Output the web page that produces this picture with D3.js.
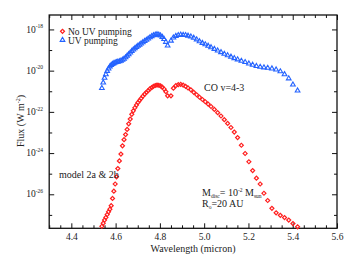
<!DOCTYPE html>
<html>
<head>
<meta charset="utf-8">
<script src="https://cdn.jsdelivr.net/npm/d3@7"></script>
<style>
  body { margin: 0; background: #fff; }
  text { font-family: "Liberation Serif", "Times New Roman", serif; fill: #222; }
</style>
</head>
<body>
<svg id="chart" width="352" height="259"></svg>
<script>
// wavelengths (micron) of the plotted points
const wavelength = [
  4.538, 4.544, 4.550, 4.556, 4.562, 4.568, 4.574, 4.580, 4.586, 4.592, 4.598, 4.604,
  4.610, 4.617, 4.624, 4.631, 4.638, 4.645, 4.652, 4.659, 4.666, 4.673, 4.680, 4.687,
  4.694, 4.701, 4.708, 4.715, 4.723, 4.731, 4.739, 4.747, 4.755, 4.763, 4.771, 4.779,
  4.787, 4.795, 4.803, 4.811, 4.819, 4.827, 4.835,
  4.850, 4.861, 4.872, 4.883, 4.894, 4.905, 4.916, 4.927, 4.940, 4.953, 4.966, 4.979,
  4.992, 5.005, 5.018, 5.031, 5.046, 5.061, 5.076, 5.091, 5.106, 5.121, 5.136, 5.151,
  5.168, 5.185, 5.202, 5.219, 5.236, 5.253, 5.270, 5.287, 5.306, 5.325, 5.344, 5.363,
  5.382, 5.401, 5.422
];
// log10 of flux (W m^-2), no UV pumping
const logFluxNoUV = [
  -27.55, -27.40, -27.25, -27.12, -26.98, -26.85, -26.72, -26.55, -26.20, -25.85, -25.50, -25.15,
  -24.75, -24.38, -24.05, -23.65, -23.35, -23.10, -22.85, -22.58, -22.35, -22.12, -21.95, -21.80,
  -21.67, -21.55, -21.45, -21.35, -21.24, -21.14, -21.05, -20.97, -20.88, -20.82, -20.76, -20.72,
  -20.70, -20.71, -20.74, -20.80, -20.89, -21.02, -21.22,
  -21.22, -20.85, -20.73, -20.68, -20.67, -20.70, -20.76, -20.84, -20.93, -21.05, -21.17, -21.29,
  -21.40, -21.51, -21.62, -21.74, -21.88, -22.04, -22.20, -22.38, -22.56, -22.76, -22.98, -23.25,
  -23.62, -24.02, -24.42, -24.85, -25.22, -25.50, -25.95, -26.30, -26.68, -26.90, -27.02, -27.13,
  -27.25, -27.42, -27.58
];
// log10 of flux (W m^-2), UV pumping
const logFluxUV = [
  -20.85, -20.58, -20.35, -20.18, -20.02, -19.90, -19.80, -19.73, -19.68, -19.64, -19.61, -19.59,
  -19.57, -19.55, -19.52, -19.48, -19.43, -19.36, -19.28, -19.21, -19.13, -19.05, -18.98, -18.92,
  -18.86, -18.80, -18.75, -18.69, -18.63, -18.57, -18.51, -18.45, -18.39, -18.33, -18.29, -18.26,
  -18.24, -18.26, -18.30, -18.37, -18.47, -18.61, -18.79,
  -18.55, -18.40, -18.32, -18.28, -18.26, -18.27, -18.28, -18.31, -18.35, -18.41, -18.49, -18.58,
  -18.66, -18.73, -18.80, -18.87, -18.95, -19.03, -19.11, -19.19, -19.26, -19.33, -19.40, -19.46,
  -19.53, -19.59, -19.66, -19.72, -19.78, -19.82, -19.85, -19.87, -19.90, -19.95, -20.04, -20.18,
  -20.38, -20.68, -20.97
];
const seriesNames = ["No UV pumping", "UV pumping"];
const xTickValues = [4.4, 4.6, 4.8, 5.0, 5.2, 5.4, 5.6];
const xTickLabels = ["4.4", "4.6", "4.8", "5.0", "5.2", "5.4", "5.6"];
const yTickExponents = [-26, -24, -22, -20, -18];

const red = "#ff1f1f", blue = "#2463ff";
const svg = d3.select("#chart");
const pLeft = 49.2, pRight = 337, pTop = 15, pBottom = 228.3;

const x = d3.scaleLinear().domain([4.3, 5.6]).range([pLeft, pRight]);
const y = d3.scaleLog().domain([Math.pow(10, -27.65), Math.pow(10, -17.3)]).range([pBottom, pTop]);

const minorX = d3.range(4.3, 5.601, 0.05).filter(v => !xTickValues.some(t => Math.abs(t - v) < 1e-6));
const minorY = d3.range(-27, -17, 1).filter(e => !yTickExponents.includes(e)).map(e => Math.pow(10, e));
const majorY = yTickExponents.map(e => Math.pow(10, e));

function tickStyle(g) {
  g.select(".domain").remove();
  g.selectAll("line").attr("stroke", "#111").attr("stroke-width", 1);
}

// bottom axis with labels
svg.append("g")
  .attr("transform", `translate(0,${pBottom})`)
  .call(d3.axisBottom(x).tickValues(xTickValues).tickSize(-5).tickPadding(5)
    .tickFormat((d, i) => xTickLabels[i]))
  .call(tickStyle)
  .call(g => g.selectAll("text").attr("font-size", 9.5).attr("fill", "#333")
    .style("font-family", "Liberation Serif"));
svg.append("g").attr("transform", `translate(0,${pBottom})`)
  .call(d3.axisBottom(x).tickValues(minorX).tickSize(-3).tickFormat(""))
  .call(tickStyle);
// top axis (ticks only)
svg.append("g").attr("transform", `translate(0,${pTop})`)
  .call(d3.axisTop(x).tickValues(xTickValues).tickSize(-5).tickFormat(""))
  .call(tickStyle);
svg.append("g").attr("transform", `translate(0,${pTop})`)
  .call(d3.axisTop(x).tickValues(minorX).tickSize(-3).tickFormat(""))
  .call(tickStyle);
// left / right axes
[["axisLeft", pLeft], ["axisRight", pRight]].forEach(([fn, pos]) => {
  svg.append("g").attr("transform", `translate(${pos},0)`)
    .call(d3[fn](y).tickValues(majorY).tickSize(-5).tickFormat(""))
    .call(tickStyle);
  svg.append("g").attr("transform", `translate(${pos},0)`)
    .call(d3[fn](y).tickValues(minorY).tickSize(-3).tickFormat(""))
    .call(tickStyle);
});

// y tick labels 10^n
yTickExponents.forEach(e => {
  const t = svg.append("text")
    .attr("x", 43).attr("y", y(Math.pow(10, e)) + 3.2)
    .attr("text-anchor", "end").attr("font-size", 9.5).attr("fill", "#333");
  t.append("tspan").text("10");
  t.append("tspan").attr("font-size", 5.5).attr("dy", -4.5).text(String(e));
});

// frame
svg.append("rect")
  .attr("x", pLeft).attr("y", pTop).attr("width", pRight - pLeft).attr("height", pBottom - pTop)
  .attr("fill", "none").attr("stroke", "#111").attr("stroke-width", 1.3);

// axis titles
svg.append("text").attr("x", 193).attr("y", 252).attr("text-anchor", "middle")
  .attr("font-size", 10).text("Wavelength (micron)");
const yt = svg.append("text").attr("transform", "translate(24,121) rotate(-90)")
  .attr("text-anchor", "middle").attr("font-size", 10);
yt.append("tspan").text("Flux (W m");
yt.append("tspan").attr("font-size", 6).attr("dy", -4).text("-2");
yt.append("tspan").attr("dy", 4).text(")");

// markers
const diamond = d3.symbol().type(d3.symbolSquare).size(8);
const triangle = d3.symbol().type(d3.symbolTriangle).size(9.5);
const noUV = wavelength.map((w, i) => ({ w, f: Math.pow(10, logFluxNoUV[i]) }));
const withUV = wavelength.map((w, i) => ({ w, f: Math.pow(10, logFluxUV[i]) }));

svg.append("g").selectAll("path").data(withUV).join("path")
  .attr("d", triangle)
  .attr("transform", d => `translate(${x(d.w)},${y(d.f)})`)
  .attr("fill", "none").attr("stroke", blue).attr("stroke-width", 1.1);
svg.append("g").selectAll("path").data(noUV).join("path")
  .attr("d", diamond)
  .attr("transform", d => `translate(${x(d.w)},${y(d.f)}) rotate(45)`)
  .attr("fill", "none").attr("stroke", red).attr("stroke-width", 1.2);

// legend
const legend = svg.append("g");
legend.append("path").attr("d", diamond).attr("transform", "translate(62.5,31.3) rotate(45)")
  .attr("fill", "none").attr("stroke", red).attr("stroke-width", 1.2);
legend.append("path").attr("d", triangle).attr("transform", "translate(62.5,40)")
  .attr("fill", "none").attr("stroke", blue).attr("stroke-width", 1.1);
legend.selectAll("text").data(seriesNames).join("text")
  .attr("x", 68).attr("y", (d, i) => 34.5 + i * 9).attr("font-size", 9.5).text(d => d);

// annotations
svg.append("text").attr("x", 204).attr("y", 91).attr("font-size", 10).text("CO v=4-3");
svg.append("text").attr("x", 59).attr("y", 178).attr("font-size", 10).text("model 2a & 2b");
const m = svg.append("text").attr("x", 202).attr("y", 196).attr("font-size", 10);
m.append("tspan").text("M");
m.append("tspan").attr("font-size", 5.5).attr("dy", 2).text("disc");
m.append("tspan").attr("dy", -2).text("= 10");
m.append("tspan").attr("font-size", 5.5).attr("dy", -4).text("-2");
m.append("tspan").attr("dy", 4).text(" M");
m.append("tspan").attr("font-size", 5.5).attr("dy", 2).text("sun");
const r = svg.append("text").attr("x", 202).attr("y", 207).attr("font-size", 10);
r.append("tspan").text("R");
r.append("tspan").attr("font-size", 5.5).attr("dy", 2).text("o");
r.append("tspan").attr("dy", -2).text("=20 AU");
</script>
</body>
</html>
